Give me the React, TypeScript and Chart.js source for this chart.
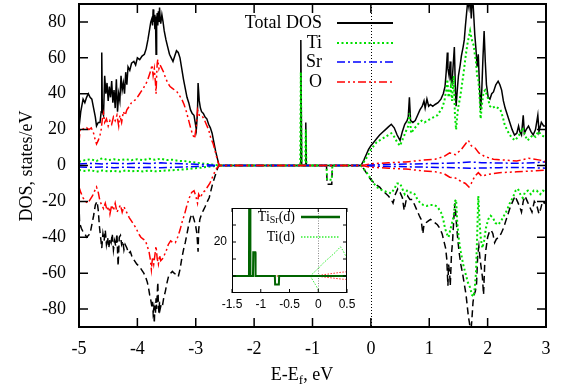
import React, { useEffect, useRef } from 'react';
import { Chart, registerables } from 'chart.js';
Chart.register(...registerables);

// ---------- axis ticks ----------
const xTicks = [-5, -4, -3, -2, -1, 0, 1, 2, 3];
const yTicks = [-80, -60, -40, -20, 0, 20, 40, 60, 80];
const insetXTicks = [-1.5, -1, -0.5, 0, 0.5];
const insetYTicks = [0, 10, 20, 30];
const insetYLabels = [20];

// ---------- main DOS series: [E - Ef (eV), DOS (states/eV)] ----------
const totalUp = [
  [-5, 21], [-4.97, 30], [-4.93, 37], [-4.9, 35], [-4.87, 38], [-4.84, 40], [-4.81, 38], [-4.78, 37],
  [-4.75, 32], [-4.72, 27], [-4.7, 22], [-4.67, 24], [-4.64, 24], [-4.62, 30], [-4.61, 63], [-4.6, 30],
  [-4.58, 28], [-4.56, 50], [-4.54, 40], [-4.52, 46], [-4.5, 36], [-4.48, 44], [-4.46, 38], [-4.44, 47],
  [-4.42, 35], [-4.4, 42], [-4.38, 32], [-4.36, 48], [-4.34, 30], [-4.32, 40], [-4.3, 36], [-4.28, 50],
  [-4.26, 42], [-4.24, 46], [-4.22, 40], [-4.2, 52], [-4.18, 45], [-4.16, 55], [-4.13, 53], [-4.1, 57],
  [-4.06, 58], [-4.03, 56], [-4, 60], [-3.96, 59], [-3.92, 61], [-3.88, 62], [-3.85, 65], [-3.82, 70],
  [-3.79, 76], [-3.77, 80], [-3.75, 82], [-3.74, 78], [-3.73, 87], [-3.72, 80], [-3.71, 84], [-3.7, 76],
  [-3.69, 83], [-3.68, 62], [-3.67, 80], [-3.66, 85], [-3.65, 78], [-3.64, 86], [-3.63, 80], [-3.62, 88],
  [-3.61, 82], [-3.6, 79], [-3.58, 84], [-3.56, 80], [-3.54, 75], [-3.51, 70], [-3.48, 66], [-3.45, 62],
  [-3.42, 60], [-3.39, 58], [-3.36, 61], [-3.33, 64], [-3.3, 63], [-3.27, 60], [-3.24, 54], [-3.21, 48],
  [-3.18, 43], [-3.15, 38], [-3.12, 35], [-3.09, 31], [-3.06, 29], [-3.03, 28], [-3.01, 24], [-2.99, 20],
  [-2.97, 30], [-2.96, 46], [-2.94, 36], [-2.92, 32], [-2.9, 30], [-2.87, 29], [-2.84, 27], [-2.81, 26],
  [-2.78, 23], [-2.75, 21], [-2.72, 18], [-2.69, 13], [-2.66, 8], [-2.63, 4], [-2.6, 0],
  [-1.21, 0], [-1.2, 70], [-1.185, 0], [-1.125, 0], [-1.115, 24], [-1.105, 0],
  [-0.17, 0], [-0.12, 3], [-0.08, 6], [-0.04, 9], [0, 11], [0.05, 13], [0.1, 15], [0.15, 17], [0.2, 18.5],
  [0.25, 20], [0.3, 21.5], [0.35, 23], [0.4, 21], [0.45, 17], [0.5, 14], [0.54, 19], [0.58, 23], [0.62, 25],
  [0.64, 27], [0.66, 38], [0.68, 25], [0.72, 24], [0.76, 25], [0.8, 28], [0.84, 31], [0.88, 33], [0.91, 36],
  [0.93, 32], [0.96, 37], [0.99, 33], [1.02, 34], [1.06, 33], [1.1, 34], [1.15, 35], [1.2, 37], [1.24, 40],
  [1.27, 44], [1.29, 52], [1.31, 63], [1.32, 54], [1.34, 50], [1.36, 58], [1.37, 48], [1.39, 46], [1.41, 56],
  [1.43, 66], [1.45, 40], [1.46, 33], [1.48, 42], [1.5, 50], [1.53, 56], [1.55, 61], [1.58, 66], [1.6, 70],
  [1.62, 78], [1.64, 85], [1.66, 92], [1.68, 88], [1.7, 95], [1.72, 82], [1.74, 96], [1.76, 85], [1.78, 73],
  [1.8, 65], [1.82, 55], [1.84, 62], [1.86, 45], [1.88, 31], [1.9, 42], [1.92, 60], [1.94, 75], [1.96, 58],
  [1.98, 45], [2.01, 38], [2.04, 37], [2.07, 40], [2.1, 41], [2.14, 45], [2.18, 47], [2.21, 45], [2.24, 42],
  [2.27, 36], [2.3, 32], [2.34, 28], [2.38, 24], [2.42, 20], [2.46, 17], [2.5, 18], [2.53, 22], [2.55, 19],
  [2.58, 17], [2.61, 28], [2.63, 18], [2.66, 20], [2.7, 22], [2.74, 19], [2.78, 17], [2.82, 20], [2.86, 28],
  [2.88, 19], [2.92, 24], [2.96, 22], [3, 22],
];

const totalDn = [
  [-5, -21], [-4.99, -32], [-4.96, -35], [-4.93, -37], [-4.9, -38], [-4.87, -40], [-4.84, -39], [-4.81, -38],
  [-4.78, -33], [-4.75, -28], [-4.72, -22], [-4.69, -20], [-4.67, -25], [-4.65, -34], [-4.63, -40], [-4.61, -46],
  [-4.59, -38], [-4.57, -42], [-4.55, -36], [-4.53, -44], [-4.51, -40], [-4.49, -46], [-4.47, -41], [-4.45, -43],
  [-4.43, -38], [-4.41, -47], [-4.39, -42], [-4.37, -45], [-4.35, -38], [-4.33, -56], [-4.31, -40], [-4.29, -39],
  [-4.27, -44], [-4.25, -42], [-4.23, -47], [-4.21, -44], [-4.18, -46], [-4.15, -49], [-4.12, -48], [-4.09, -51],
  [-4.05, -53], [-4.01, -55], [-3.97, -56], [-3.93, -58], [-3.89, -60], [-3.86, -62], [-3.83, -65], [-3.81, -68],
  [-3.79, -72], [-3.77, -75], [-3.75, -79], [-3.74, -76], [-3.73, -82], [-3.72, -80], [-3.71, -88], [-3.7, -78],
  [-3.69, -82], [-3.68, -74], [-3.67, -80], [-3.66, -72], [-3.65, -65], [-3.64, -78], [-3.63, -82], [-3.62, -76],
  [-3.61, -80], [-3.59, -77], [-3.57, -78], [-3.55, -74], [-3.52, -70], [-3.49, -65], [-3.46, -61], [-3.43, -60],
  [-3.4, -59], [-3.37, -60], [-3.33, -61], [-3.3, -62], [-3.27, -58], [-3.24, -52], [-3.21, -47], [-3.18, -43],
  [-3.15, -38], [-3.12, -33], [-3.09, -29], [-3.06, -27], [-3.03, -30], [-3, -34], [-2.98, -38], [-2.96, -48],
  [-2.95, -36], [-2.93, -30], [-2.9, -27], [-2.87, -25], [-2.84, -23], [-2.8, -20], [-2.77, -18], [-2.74, -14],
  [-2.71, -10], [-2.68, -7], [-2.65, -4], [-2.62, -1], [-2.6, 0],
  [-0.76, 0], [-0.75, -10.5], [-0.67, -10.5], [-0.66, 0],
  [-0.17, 0], [-0.12, -2], [-0.08, -4], [-0.04, -6], [0, -8], [0.05, -9.5], [0.1, -11], [0.15, -12], [0.2, -14],
  [0.25, -15.5], [0.3, -17], [0.35, -19], [0.38, -21], [0.42, -16], [0.46, -13], [0.5, -15], [0.54, -18],
  [0.57, -25], [0.6, -20], [0.63, -17], [0.67, -19], [0.71, -19], [0.75, -22], [0.79, -25], [0.83, -28],
  [0.86, -30], [0.89, -38], [0.91, -33], [0.94, -32], [0.98, -31], [1.02, -30], [1.06, -31], [1.1, -32],
  [1.14, -33], [1.18, -35], [1.22, -38], [1.25, -42], [1.28, -46], [1.3, -52], [1.32, -67], [1.33, -55],
  [1.35, -60], [1.36, -67], [1.38, -50], [1.4, -42], [1.42, -30], [1.44, -21], [1.46, -30], [1.48, -38],
  [1.51, -48], [1.54, -55], [1.57, -60], [1.6, -66], [1.63, -72], [1.65, -78], [1.67, -84], [1.69, -88],
  [1.71, -94], [1.73, -86], [1.75, -76], [1.77, -72], [1.79, -70], [1.81, -66], [1.83, -50], [1.85, -45],
  [1.87, -52], [1.89, -57], [1.91, -62], [1.93, -72], [1.95, -55], [1.97, -47], [2, -40], [2.03, -37],
  [2.06, -36], [2.09, -38], [2.12, -43], [2.15, -41], [2.19, -40], [2.23, -38], [2.27, -35], [2.31, -31],
  [2.35, -27], [2.39, -23], [2.43, -20], [2.47, -17], [2.51, -20], [2.55, -23], [2.58, -26], [2.61, -20],
  [2.64, -17], [2.68, -20], [2.72, -23], [2.76, -26], [2.8, -20], [2.84, -22], [2.88, -27], [2.91, -24],
  [2.94, -20], [2.97, -21], [3, -20],
];

const tiUp = [
  [-5, 2], [-4.9, 3], [-4.8, 3.5], [-4.7, 2.5], [-4.65, 3.5], [-4.6, 4], [-4.5, 3], [-4.4, 3.5], [-4.3, 3],
  [-4.2, 3.5], [-4.1, 3], [-4, 3.5], [-3.9, 3], [-3.8, 3.8], [-3.7, 3.2], [-3.6, 3.8], [-3.5, 3], [-3.4, 3.2],
  [-3.3, 2.6], [-3.2, 2.5], [-3.1, 2], [-3, 1.6], [-2.9, 1.2], [-2.8, 0.8], [-2.7, 0.4], [-2.6, 0],
  [-1.21, 0], [-1.2, 52], [-1.185, 0], [-1.125, 0], [-1.115, 20], [-1.105, 0],
  [-0.17, 0], [-0.12, 2], [-0.06, 5], [0, 9], [0.05, 11], [0.1, 13], [0.15, 14], [0.2, 15], [0.25, 16],
  [0.3, 17], [0.35, 18], [0.4, 16], [0.45, 13], [0.5, 11], [0.55, 15], [0.6, 19], [0.64, 22], [0.66, 29],
  [0.69, 18], [0.73, 20], [0.78, 22], [0.83, 24], [0.87, 25], [0.92, 24], [0.97, 25], [1.02, 26], [1.08, 27],
  [1.14, 28], [1.18, 30], [1.22, 32], [1.26, 36], [1.29, 42], [1.31, 48], [1.33, 38], [1.35, 40], [1.37, 44],
  [1.39, 36], [1.42, 50], [1.44, 28], [1.46, 20], [1.48, 28], [1.5, 33], [1.53, 38], [1.56, 45], [1.59, 52],
  [1.62, 60], [1.65, 67], [1.68, 72], [1.7, 75], [1.73, 70], [1.76, 67], [1.78, 62], [1.8, 58], [1.82, 50],
  [1.84, 48], [1.86, 40], [1.88, 26], [1.9, 33], [1.93, 41], [1.96, 42], [2, 38], [2.04, 33], [2.08, 32],
  [2.13, 33], [2.18, 32], [2.22, 31], [2.26, 27], [2.29, 23], [2.33, 20], [2.38, 17], [2.43, 15], [2.47, 14],
  [2.52, 16], [2.56, 18], [2.6, 21], [2.64, 17], [2.68, 14], [2.72, 15], [2.77, 17], [2.82, 16], [2.87, 19],
  [2.92, 17], [2.97, 16], [3, 17],
];

const tiDn = [
  [-5, -2.5], [-4.9, -3], [-4.8, -2.6], [-4.7, -3.5], [-4.6, -2.8], [-4.5, -3.2], [-4.4, -3], [-4.3, -3.4],
  [-4.2, -2.8], [-4.1, -3.2], [-4, -3], [-3.9, -3.3], [-3.8, -2.8], [-3.7, -3.2], [-3.6, -3], [-3.5, -2.8],
  [-3.4, -2.6], [-3.3, -2.4], [-3.2, -2.2], [-3.1, -1.8], [-3, -1.5], [-2.9, -1.2], [-2.8, -0.8], [-2.7, -0.4],
  [-2.6, 0], [-0.76, 0], [-0.75, -8], [-0.67, -8], [-0.66, 0],
  [-0.17, 0], [-0.12, -2], [-0.06, -4.5], [0, -7.5], [0.05, -10], [0.1, -12], [0.15, -13], [0.2, -14],
  [0.25, -14.5], [0.3, -15], [0.35, -15.5], [0.4, -13], [0.45, -10], [0.5, -10], [0.54, -13], [0.58, -16],
  [0.62, -14], [0.66, -15], [0.7, -15], [0.75, -16], [0.8, -19], [0.85, -21], [0.9, -22], [0.96, -22.5],
  [1.02, -22], [1.08, -22], [1.14, -23], [1.2, -26], [1.24, -30], [1.27, -35], [1.3, -38], [1.33, -40],
  [1.36, -36], [1.39, -32], [1.42, -28], [1.44, -20], [1.46, -19], [1.48, -32], [1.51, -42], [1.54, -48],
  [1.58, -55], [1.62, -60], [1.66, -65], [1.7, -68], [1.73, -72], [1.76, -73], [1.78, -68], [1.8, -60],
  [1.82, -40], [1.84, -17], [1.86, -30], [1.88, -40], [1.91, -46], [1.94, -42], [1.97, -35], [2.01, -30],
  [2.05, -28], [2.09, -29], [2.13, -32], [2.18, -33], [2.23, -31], [2.28, -28], [2.33, -25], [2.38, -21],
  [2.43, -18], [2.48, -14], [2.52, -13], [2.56, -16], [2.6, -18], [2.64, -15], [2.69, -14], [2.74, -16],
  [2.79, -14], [2.84, -14], [2.9, -16], [2.95, -14], [3, -15],
];

const srUp = [
  [-5, 0.8], [-4.8, 1.2], [-4.6, 0.9], [-4.4, 1.3], [-4.2, 1], [-4, 1.3], [-3.8, 1.1], [-3.6, 1.5], [-3.4, 1.1],
  [-3.2, 0.9], [-3, 0.7], [-2.8, 0.4], [-2.6, 0], [-0.15, 0], [0, 0.3], [0.3, 0.6], [0.6, 0.8], [0.9, 1],
  [1.2, 1.2], [1.5, 1.5], [1.7, 2], [1.9, 1.6], [2.2, 1.4], [2.5, 1.2], [2.8, 1.6], [3, 2],
];

const srDn = [
  [-5, -0.8], [-4.8, -1], [-4.6, -0.8], [-4.4, -1.2], [-4.2, -0.9], [-4, -1.2], [-3.8, -1], [-3.6, -1.3],
  [-3.4, -1], [-3.2, -0.8], [-3, -0.6], [-2.8, -0.3], [-2.6, 0], [-0.15, 0], [0, -0.3], [0.3, -0.5],
  [0.6, -0.7], [0.9, -0.9], [1.2, -1.1], [1.5, -1.3], [1.7, -1.6], [1.9, -1.4], [2.2, -1.2], [2.5, -1.1],
  [2.8, -1.3], [3, -1.5],
];

const oUp = [
  [-5, 13], [-4.98, 20], [-4.95, 21], [-4.91, 20], [-4.87, 21], [-4.83, 20], [-4.79, 21], [-4.75, 18],
  [-4.72, 14], [-4.7, 12], [-4.67, 14], [-4.64, 17], [-4.62, 20], [-4.6, 26], [-4.58, 29], [-4.56, 24],
  [-4.53, 26], [-4.5, 22], [-4.47, 25], [-4.44, 23], [-4.41, 27], [-4.38, 25], [-4.35, 28], [-4.32, 22],
  [-4.3, 28], [-4.27, 24], [-4.24, 30], [-4.21, 28], [-4.18, 31], [-4.14, 33], [-4.1, 35], [-4.06, 36],
  [-4.02, 37], [-3.98, 39], [-3.94, 41], [-3.9, 43], [-3.86, 45], [-3.82, 48], [-3.79, 51], [-3.77, 53],
  [-3.75, 56], [-3.73, 50], [-3.71, 54], [-3.69, 46], [-3.68, 40], [-3.67, 50], [-3.66, 57], [-3.65, 59],
  [-3.63, 54], [-3.61, 56], [-3.58, 54], [-3.55, 52], [-3.52, 49], [-3.48, 46], [-3.44, 44], [-3.4, 43],
  [-3.36, 42], [-3.32, 41], [-3.28, 39], [-3.24, 37], [-3.2, 34], [-3.16, 30], [-3.12, 25], [-3.08, 20],
  [-3.05, 17], [-3.02, 15], [-2.99, 22], [-2.97, 31], [-2.94, 28], [-2.9, 28], [-2.86, 26], [-2.82, 23],
  [-2.78, 20], [-2.74, 15], [-2.7, 12], [-2.66, 7], [-2.62, 2], [-2.6, 0],
  [-0.15, 0], [0, 1], [0.3, 1.5], [0.6, 2], [0.9, 3], [1.1, 3.5], [1.25, 5], [1.35, 7], [1.45, 6], [1.55, 9],
  [1.62, 12], [1.67, 14], [1.72, 11], [1.78, 10], [1.85, 7], [1.95, 5], [2.1, 3.5], [2.3, 3], [2.5, 2.5],
  [2.7, 4], [2.9, 3], [3, 2],
];

const oDn = [
  [-5, -12], [-4.97, -15], [-4.93, -18], [-4.89, -20], [-4.85, -21], [-4.81, -19], [-4.77, -17], [-4.73, -14],
  [-4.7, -12], [-4.67, -15], [-4.64, -20], [-4.61, -22], [-4.58, -24], [-4.55, -21], [-4.52, -25], [-4.49, -23],
  [-4.47, -27], [-4.44, -22], [-4.41, -25], [-4.38, -21], [-4.35, -26], [-4.32, -24], [-4.29, -22], [-4.26, -26],
  [-4.23, -23], [-4.2, -25], [-4.17, -27], [-4.14, -29], [-4.1, -31], [-4.06, -33], [-4.02, -35], [-3.98, -38],
  [-3.94, -40], [-3.9, -41], [-3.86, -42], [-3.83, -45], [-3.8, -48], [-3.78, -52], [-3.76, -58], [-3.74, -51],
  [-3.72, -55], [-3.7, -50], [-3.68, -45], [-3.66, -52], [-3.64, -55], [-3.62, -50], [-3.6, -53], [-3.57, -52],
  [-3.54, -50], [-3.51, -48], [-3.47, -44], [-3.43, -42], [-3.39, -43], [-3.35, -43], [-3.31, -40], [-3.27, -36],
  [-3.23, -31], [-3.19, -27], [-3.15, -22], [-3.11, -18], [-3.07, -15], [-3.03, -14], [-3, -17], [-2.97, -21],
  [-2.95, -16], [-2.92, -18], [-2.88, -15], [-2.84, -14], [-2.8, -12], [-2.76, -10], [-2.72, -7], [-2.68, -4],
  [-2.64, -1.5], [-2.6, 0],
  [-0.15, 0], [0, -1], [0.3, -1.5], [0.6, -2], [0.9, -3], [1.1, -3.5], [1.25, -4.5], [1.35, -6.5], [1.45, -7],
  [1.55, -9], [1.62, -10], [1.68, -12], [1.72, -10], [1.78, -6], [1.84, -4], [1.9, -6], [2, -5], [2.2, -4],
  [2.5, -3.5], [2.8, -3], [3, -2.5],
];

// ---------- inset series ----------
const insetTiSr = [
  [-1.5, 0], [-1.205, 0], [-1.2, 60], [-1.185, 60], [-1.18, 0], [-1.135, 0], [-1.13, 14], [-1.095, 14],
  [-1.09, 0], [-0.755, 0], [-0.75, -5], [-0.685, -5], [-0.68, 0], [0.5, 0],
];
const insetOUp = [
  [-1.5, 0], [-1.2, 0], [-1.19, 7.5], [-1.18, 0], [-0.05, 0], [0.1, 0.8], [0.25, 1.5], [0.4, 2.2], [0.5, 2.5],
];
const insetODn = [[-0.05, 0], [0.1, -0.6], [0.25, -1.2], [0.4, -1.8], [0.5, -2]];
const insetTiUp = [
  [-1.5, 0], [-0.14, 0], [0, 4.5], [0.1, 8], [0.2, 11], [0.3, 14], [0.385, 17.2], [0.43, 15], [0.47, 12.3], [0.5, 10],
];
const insetTiDn = [[-0.14, 0], [-0.05, -5], [0, -8], [0.03, -11], [0.06, -14]];

// ---------- styles ----------
const SERIF = "'Liberation Serif', 'Times New Roman', Times, serif";
const SANS = "'Liberation Sans', Arial, Helvetica, sans-serif";
const GREEN = '#00e000';
const DARKGREEN = '#006400';
const DASH_TI = [2, 2.5];
const DASH_SR = [8, 3, 2, 3];
const DASH_O = [8, 3, 2, 3, 2, 3];
const DASH_DN = [7, 4];

const pts = (a: number[][]) => a.map(([x, y]) => ({ x, y }));

function noPad(s: any) {
  s.paddingLeft = 0; s.paddingRight = 0; s.paddingTop = 0; s.paddingBottom = 0;
}

function drawRich(ctx: CanvasRenderingContext2D, parts: { t: string; size: number; dy: number }[], x: number, y: number, align: 'left' | 'right' | 'center') {
  let total = 0;
  const widths = parts.map((p) => { ctx.font = `${p.size}px ${SERIF}`; const w = ctx.measureText(p.t).width; total += w; return w; });
  let cx = align === 'left' ? x : align === 'right' ? x - total : x - total / 2;
  ctx.textAlign = 'left';
  parts.forEach((p, i) => { ctx.font = `${p.size}px ${SERIF}`; ctx.fillText(p.t, cx, y + p.dy); cx += widths[i]; });
}

function sample(ctx: CanvasRenderingContext2D, x1: number, x2: number, y: number, color: string, width: number, dash: number[]) {
  ctx.save(); ctx.strokeStyle = color; ctx.lineWidth = width; ctx.setLineDash(dash);
  ctx.beginPath(); ctx.moveTo(x1, y); ctx.lineTo(x2, y); ctx.stroke(); ctx.restore();
}

const mainDecor = {
  id: 'mainDecor',
  beforeDatasetsDraw(chart: any) {
    const { ctx, chartArea: { top, bottom }, scales: { x } } = chart;
    const px = Math.round(x.getPixelForValue(0)) + 0.5;
    ctx.save(); ctx.strokeStyle = '#000'; ctx.lineWidth = 1; ctx.setLineDash([1, 2]);
    ctx.beginPath(); ctx.moveTo(px, top); ctx.lineTo(px, bottom); ctx.stroke(); ctx.restore();
  },
  afterDraw(chart: any) {
    const { ctx, chartArea: { left, right, top, bottom }, scales: { x, y } } = chart;
    ctx.save();
    ctx.strokeStyle = '#000'; ctx.setLineDash([]); ctx.lineWidth = 1.5;
    ctx.beginPath();
    xTicks.forEach((v) => { const p = x.getPixelForValue(v); ctx.moveTo(p, bottom); ctx.lineTo(p, bottom - 9); ctx.moveTo(p, top); ctx.lineTo(p, top + 9); });
    yTicks.forEach((v) => { const p = y.getPixelForValue(v); ctx.moveTo(left, p); ctx.lineTo(left + 9, p); ctx.moveTo(right, p); ctx.lineTo(right - 9, p); });
    ctx.stroke();
    ctx.lineWidth = 2; ctx.strokeRect(left, top, right - left, bottom - top);
    // legend
    ctx.fillStyle = '#000'; ctx.textBaseline = 'middle'; ctx.textAlign = 'right';
    ctx.font = `18px ${SERIF}`;
    const lx = 322, s1 = 337, s2 = 393;
    const rows: [string, number, string, number, number[]][] = [
      ['Total DOS', 23, '#000', 2, []],
      ['Ti', 43, GREEN, 2, DASH_TI],
      ['Sr', 62, '#0000ff', 1.5, DASH_SR],
      ['O', 82, '#ff0000', 1.5, DASH_O],
    ];
    rows.forEach(([t, yy, c, w, d]) => { ctx.fillText(t, lx, yy); sample(ctx, s1, s2, yy, c, w, d); });
    // axis titles
    ctx.textBaseline = 'alphabetic';
    drawRich(ctx, [{ t: 'E-E', size: 18, dy: 0 }, { t: 'f', size: 13, dy: 4 }, { t: ', eV', size: 18, dy: 0 }], 302, 380, 'center');
    ctx.save(); ctx.translate(32, 166); ctx.rotate(-Math.PI / 2);
    ctx.font = `18px ${SERIF}`; ctx.textAlign = 'center'; ctx.fillText('DOS, states/eV', 0, 0);
    ctx.restore();
    ctx.restore();
  },
};

const insetDecor = {
  id: 'insetDecor',
  beforeDraw(chart: any) {
    const { ctx, chartArea: { left, right, top, bottom } } = chart;
    ctx.save(); ctx.fillStyle = '#fff'; ctx.fillRect(left, top, right - left, bottom - top); ctx.restore();
  },
  beforeDatasetsDraw(chart: any) {
    const { ctx, chartArea: { top, bottom }, scales: { x } } = chart;
    const px = Math.round(x.getPixelForValue(0)) + 0.5;
    ctx.save(); ctx.strokeStyle = '#888'; ctx.lineWidth = 1; ctx.setLineDash([1, 1.5]);
    ctx.beginPath(); ctx.moveTo(px, top); ctx.lineTo(px, bottom); ctx.stroke(); ctx.restore();
  },
  afterDraw(chart: any) {
    const { ctx, chartArea: { left, right, top, bottom }, scales: { x, y } } = chart;
    ctx.save();
    ctx.strokeStyle = '#000'; ctx.setLineDash([]); ctx.lineWidth = 1;
    ctx.beginPath();
    insetXTicks.forEach((v) => { const p = x.getPixelForValue(v); ctx.moveTo(p, bottom); ctx.lineTo(p, bottom - 4); ctx.moveTo(p, top); ctx.lineTo(p, top + 4); });
    insetYTicks.forEach((v) => { const p = y.getPixelForValue(v); ctx.moveTo(left, p); ctx.lineTo(left + 4, p); ctx.moveTo(right, p); ctx.lineTo(right - 4, p); });
    ctx.stroke();
    ctx.strokeRect(left + 0.5, top + 0.5, right - left - 1, bottom - top - 1);
    ctx.fillStyle = '#000'; ctx.textBaseline = 'middle';
    drawRich(ctx, [{ t: 'Ti', size: 14, dy: 0 }, { t: 'Sr', size: 10, dy: 3 }, { t: '(d)', size: 14, dy: 0 }], 95, 19, 'right');
    drawRich(ctx, [{ t: 'Ti(d)', size: 14, dy: 0 }], 95, 39, 'right');
    sample(ctx, 101, 140, 19, DARKGREEN, 2.5, []);
    sample(ctx, 101, 140, 39, '#33ee33', 1.5, [1.5, 1.5]);
    ctx.restore();
  },
};

function line(label: string, data: number[][], color: string, width: number, dash: number[]) {
  return { label, data: pts(data), borderColor: color, borderWidth: width, borderDash: dash, pointRadius: 0, fill: false, tension: 0 };
}

export default function App() {
  const mainRef = useRef<HTMLCanvasElement>(null);
  const insetRef = useRef<HTMLCanvasElement>(null);

  useEffect(() => {
    document.body.style.margin = '0';
    const main = new Chart(mainRef.current!, {
      type: 'line',
      data: {
        datasets: [
          line('O up', oUp, '#ff0000', 1.5, DASH_O),
          line('O down', oDn, '#ff0000', 1.5, DASH_O),
          line('Sr up', srUp, '#0000ff', 1.5, DASH_SR),
          line('Sr down', srDn, '#0000ff', 1.5, DASH_SR),
          line('Ti up', tiUp, GREEN, 2, DASH_TI),
          line('Ti down', tiDn, GREEN, 2, DASH_TI),
          line('Total DOS up', totalUp, '#000', 1.5, []),
          line('Total DOS down', totalDn, '#000', 1.5, DASH_DN),
        ] as any,
      },
      options: {
        animation: false,
        responsive: false,
        maintainAspectRatio: false,
        events: [],
        layout: { padding: { top: 4, right: 28, left: 0, bottom: 0 } },
        plugins: { legend: { display: false }, tooltip: { enabled: false }, title: { display: false } },
        scales: {
          x: {
            type: 'linear', min: -5, max: 3,
            grid: { display: false, drawTicks: false }, border: { display: false },
            ticks: { padding: 11, color: '#000', font: { family: SERIF, size: 18 }, maxRotation: 0, autoSkip: false, callback: (v: any) => String(v) },
            afterBuildTicks: (s: any) => { s.ticks = xTicks.map((v) => ({ value: v })); },
            afterFit: (s: any) => { s.height = 65; noPad(s); },
          },
          y: {
            type: 'linear', min: -90, max: 90,
            grid: { display: false, drawTicks: false }, border: { display: false },
            ticks: { padding: 13, color: '#000', font: { family: SERIF, size: 18 }, autoSkip: false, callback: (v: any) => String(v) },
            afterBuildTicks: (s: any) => { s.ticks = yTicks.map((v) => ({ value: v })); },
            afterFit: (s: any) => { s.width = 79; noPad(s); },
          },
        },
      } as any,
      plugins: [mainDecor],
    });

    const inset = new Chart(insetRef.current!, {
      type: 'line',
      data: {
        datasets: [
          line('TiSr(d)', insetTiSr, DARKGREEN, 2, []),
          line('O up', insetOUp, '#ff3030', 1, [1.5, 1.5]),
          line('O down', insetODn, '#ff3030', 1, [1.5, 1.5]),
          line('Ti(d) up', insetTiUp, '#33ee33', 1, [1.5, 1.5]),
          line('Ti(d) down', insetTiDn, '#33ee33', 1, [1.5, 1.5]),
        ] as any,
      },
      options: {
        animation: false,
        responsive: false,
        maintainAspectRatio: false,
        events: [],
        layout: { padding: { top: 10, right: 13, left: 0, bottom: 0 } },
        plugins: { legend: { display: false }, tooltip: { enabled: false } },
        scales: {
          x: {
            type: 'linear', min: -1.5, max: 0.5,
            grid: { display: false, drawTicks: false }, border: { display: false },
            ticks: { padding: 4, color: '#000', font: { family: SANS, size: 12 }, maxRotation: 0, autoSkip: false, callback: (v: any) => String(v) },
            afterBuildTicks: (s: any) => { s.ticks = insetXTicks.map((v) => ({ value: v })); },
            afterFit: (s: any) => { s.height = 27; noPad(s); },
          },
          y: {
            type: 'linear', min: -10, max: 40,
            grid: { display: false, drawTicks: false }, border: { display: false },
            ticks: { padding: 5, color: '#000', font: { family: SANS, size: 12 }, autoSkip: false, callback: (v: any) => (insetYLabels.includes(v) ? String(v) : '') },
            afterBuildTicks: (s: any) => { s.ticks = insetYTicks.map((v) => ({ value: v })); },
            afterFit: (s: any) => { s.width = 32; noPad(s); },
          },
        },
      } as any,
      plugins: [insetDecor],
    });

    let alive = true;
    const fonts = (document as any).fonts;
    if (fonts && fonts.load) {
      Promise.all([fonts.load(`18px ${SERIF}`), fonts.load(`12px ${SANS}`)]).then(() => {
        if (alive) { main.update(); inset.update(); }
      }).catch(() => {});
    }

    return () => { alive = false; main.destroy(); inset.destroy(); };
  }, []);

  return (
    <div style={{ position: 'relative', width: 574, height: 392, background: '#fff' }}>
      <canvas ref={mainRef} width={574} height={392} style={{ position: 'absolute', left: 0, top: 0, width: 574, height: 392 }} />
      <canvas ref={insetRef} width={160} height={122} style={{ position: 'absolute', left: 200, top: 198, width: 160, height: 122 }} />
    </div>
  );
}
